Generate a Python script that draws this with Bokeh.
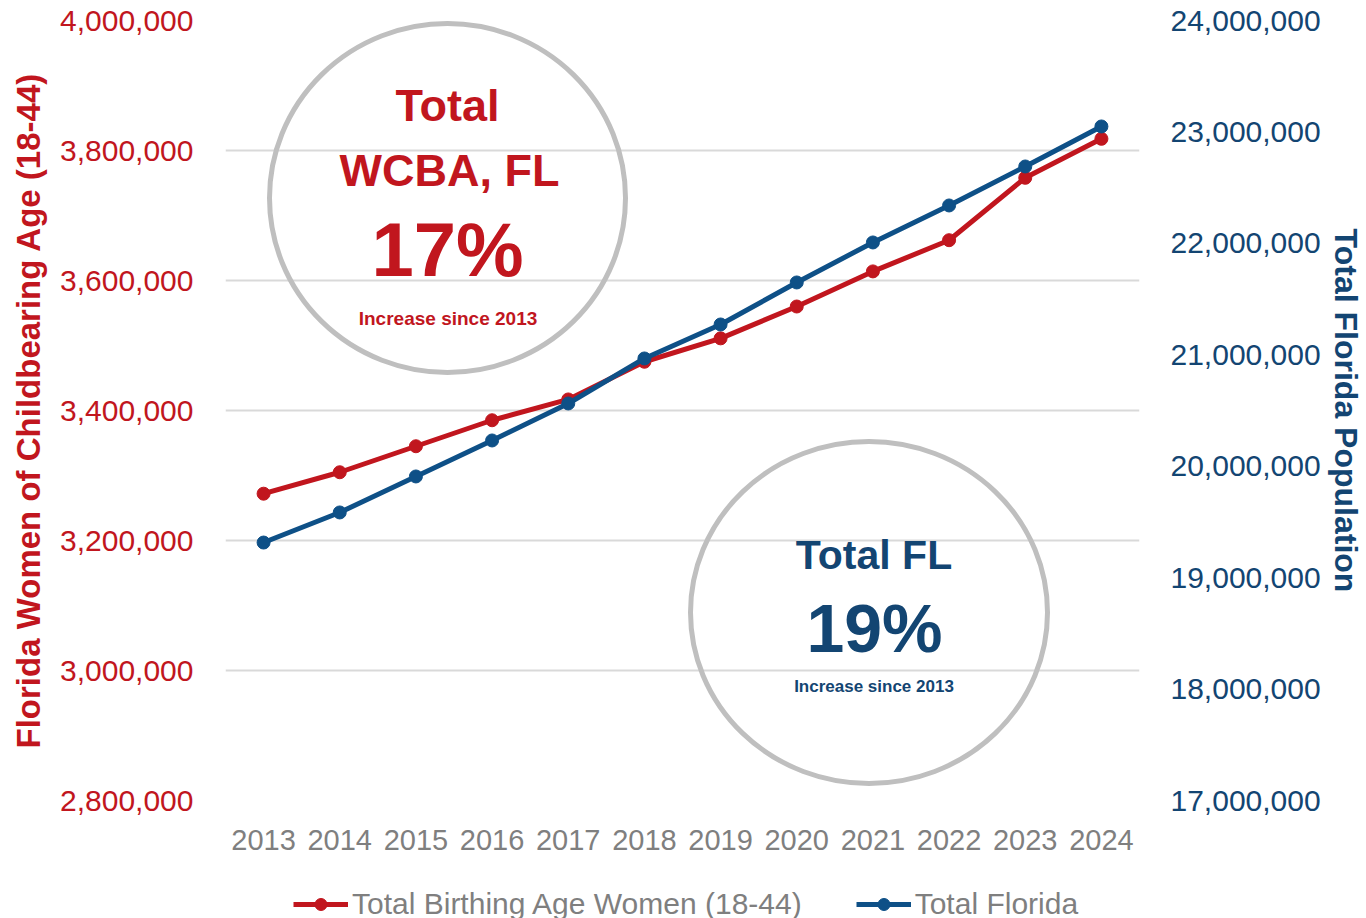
from bokeh.plotting import figure
from bokeh.layouts import column
from bokeh.models import (Range1d, LinearAxis, FixedTicker, NumeralTickFormatter,
                          Legend, LegendItem, Label)
from bokeh.embed import file_html
from bokeh.resources import INLINE

# ---------------- data ----------------
years = [2013, 2014, 2015, 2016, 2017, 2018, 2019, 2020, 2021, 2022, 2023, 2024]
wcba = [3272000, 3305000, 3345000, 3385000, 3417000, 3475000,
        3511000, 3560000, 3614000, 3662000, 3758000, 3818000]
total_fl = [19315000, 19585000, 19908000, 20231000, 20563000, 20967000,
            21272000, 21649000, 22008000, 22340000, 22690000, 23049000]
left_ticks = [2800000, 3000000, 3200000, 3400000, 3600000, 3800000, 4000000]
right_ticks = [17000000, 18000000, 19000000, 20000000, 21000000, 22000000, 23000000, 24000000]
wcba_label = "Total Birthing Age Women (18-44)"
fl_label = "Total Florida"

RED = "#C1161E"
BLUE = "#0E5087"
NAVY = "#134572"
GRAY = "#7F7F7F"
FONT = "Liberation Sans"

W, H = 1374, 870
FL, FR, FT, FB = 225, 1139, 20, 800   # frame edges (canvas px)

p = figure(width=W, height=H, output_backend="svg", toolbar_location=None,
           x_range=Range1d(2012.5, 2024.5), y_range=Range1d(2800000, 4000000),
           min_border_left=FL, min_border_right=W - FR, min_border_top=FT,
           min_border_bottom=H - FB)
p.outline_line_color = None
p.background_fill_color = "white"
p.border_fill_color = "white"

p.extra_y_ranges = {"pop": Range1d(17000000, 24000000)}

def style_axis(ax, color, size, standoff):
    ax.axis_line_color = None
    ax.major_tick_line_color = None
    ax.minor_tick_line_color = None
    ax.major_tick_out = 0
    ax.major_tick_in = 0
    ax.minor_tick_out = 0
    ax.minor_tick_in = 0
    ax.major_label_text_font = FONT
    ax.major_label_text_font_size = size
    ax.major_label_text_color = color
    ax.major_label_standoff = standoff

# x axis
xa = p.xaxis[0]
xa.ticker = FixedTicker(ticks=years)
xa.major_label_overrides = {y: str(y) for y in years}
style_axis(xa, GRAY, "29px", 29)

# left axis
ya = p.yaxis[0]
ya.ticker = FixedTicker(ticks=left_ticks)
ya.formatter = NumeralTickFormatter(format="0,0")
style_axis(ya, RED, "30px", 32)
ya.axis_label = "Florida Women of Childbearing Age (18-44)"
ya.axis_label_text_font = FONT
ya.axis_label_text_font_style = "bold"
ya.axis_label_text_font_size = "33px"
ya.axis_label_text_color = RED
ya.axis_label_standoff = 10

# right axis
ra = LinearAxis(y_range_name="pop", ticker=FixedTicker(ticks=right_ticks),
                formatter=NumeralTickFormatter(format="0,0"))
style_axis(ra, NAVY, "30px", 31)
ra.axis_label = "Total Florida Population"
ra.axis_label_text_font = FONT
ra.axis_label_text_font_style = "bold"
ra.axis_label_text_font_size = "32px"
ra.axis_label_text_color = NAVY
ra.axis_label_standoff = 4
p.add_layout(ra, "right")

# grid
p.xgrid.grid_line_color = None
p.ygrid.ticker = FixedTicker(ticks=left_ticks)
p.ygrid.grid_line_color = "#D9D9D9"
p.ygrid.grid_line_width = 2

# annotation helpers (canvas pixel -> data)
def dx(px):
    return 2012.5 + (px - FL) / ((FR - FL) / 12)

def dy(py):
    return 4000000 - (py - FT) / (FB - FT) * 1200000

# circles
p.ellipse(x=[dx(447)], y=[dy(197.5)], width=356, height=349,
          width_units="screen", height_units="screen",
          fill_color=None, line_color="#BFBFBF", line_width=5)
p.ellipse(x=[dx(868.5)], y=[dy(612)], width=357, height=342,
          width_units="screen", height_units="screen",
          fill_color=None, line_color="#BFBFBF", line_width=5)

def add_text(txt, px, py, size, color):
    p.add_layout(Label(x=dx(px), y=dy(py - 0.38 * size), text=txt, text_align="center",
                       text_baseline="alphabetic", text_font=FONT,
                       text_font_style="bold", text_font_size=f"{size}px",
                       text_color=color))

add_text("Total", 447, 122, 45, RED)
add_text("WCBA, FL", 449, 187, 45, RED)
add_text("17%", 447, 278, 76, RED)
add_text("Increase since 2013", 447.5, 325, 19, RED)
add_text("Total FL", 873.5, 570, 41, NAVY)
add_text("19%", 874, 653, 68, NAVY)
add_text("Increase since 2013", 873.5, 692, 17, NAVY)

# series
p.line(years, wcba, line_color=RED, line_width=5)
p.scatter(years, wcba, size=13, fill_color=RED, line_color=RED)
p.line(years, total_fl, line_color=BLUE, line_width=5, y_range_name="pop")
p.scatter(years, total_fl, size=13, fill_color=BLUE, line_color=BLUE, y_range_name="pop")

# legend strip (separate figure directly below the chart; its frame aligns with the chart's)
LH = 80
nan = float("nan")
q = figure(width=W, height=LH, output_backend="svg", toolbar_location=None,
           x_axis_location=None, y_axis_location=None,
           x_range=Range1d(0, 1), y_range=Range1d(0, 1),
           min_border=0, min_border_top=0, min_border_bottom=0)
q.outline_line_color = None
q.xgrid.visible = False
q.ygrid.visible = False
lr = q.line([nan], [nan], line_color=RED, line_width=5)
ls = q.scatter([nan], [nan], size=13, fill_color=RED, line_color=RED)
br = q.line([nan], [nan], line_color=BLUE, line_width=5)
bs = q.scatter([nan], [nan], size=13, fill_color=BLUE, line_color=BLUE)
legend = Legend(items=[LegendItem(label=wcba_label, renderers=[lr, ls]),
                       LegendItem(label=fl_label, renderers=[br, bs])],
                location=(68, 29), orientation="horizontal",
                padding=0, margin=0, spacing=54, glyph_width=55, glyph_height=30,
                label_standoff=4, label_text_font=FONT, label_text_font_size="30px",
                label_text_color=GRAY, border_line_color=None,
                background_fill_alpha=0)
q.add_layout(legend, "center")

layout = column(p, q, spacing=0)
open("out.html", "w").write(file_html(layout, INLINE))
